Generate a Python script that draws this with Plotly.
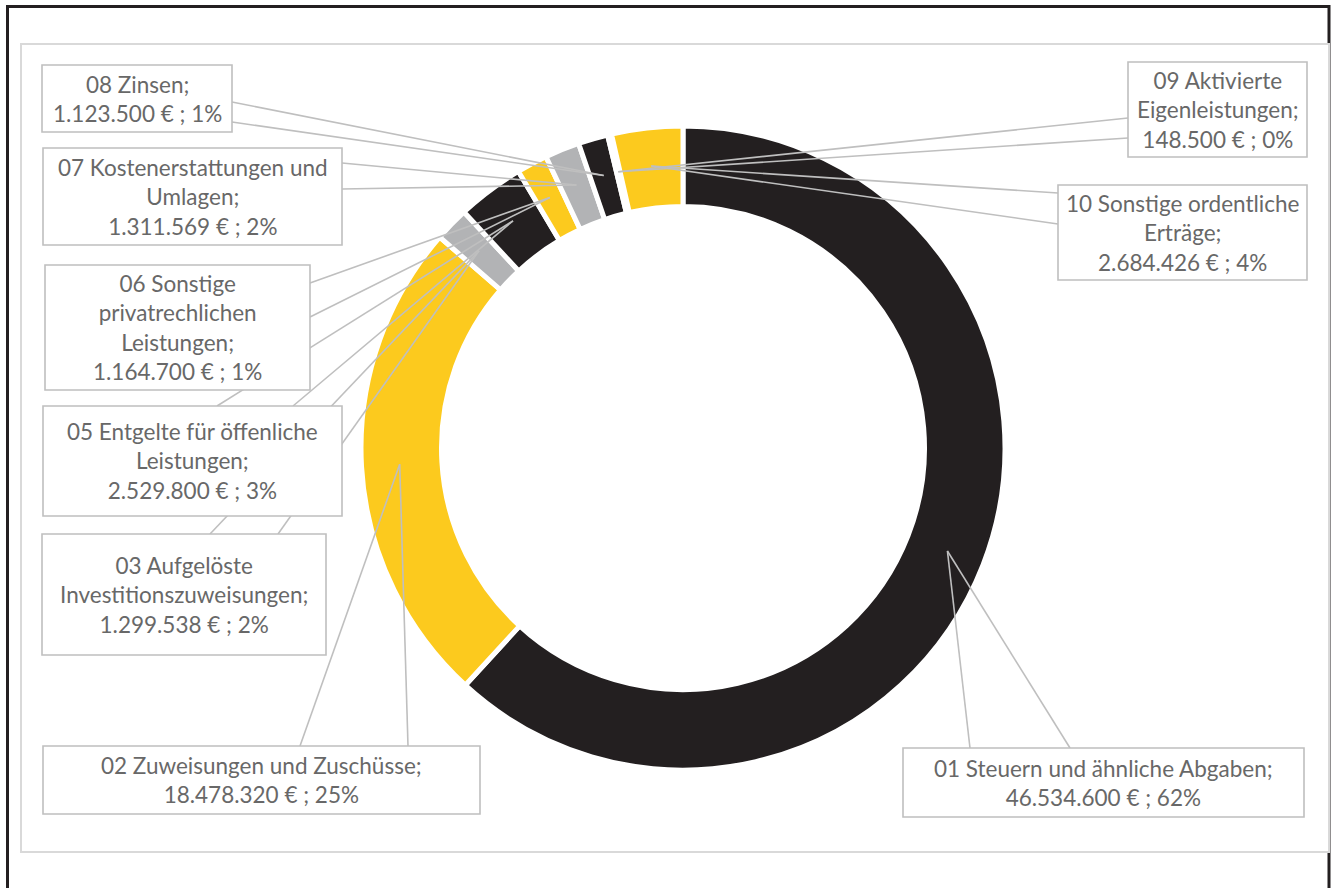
import math
import plotly.graph_objects as go

# ---------------- data ----------------
codes = ["01", "02", "03", "05", "06", "07", "08", "09", "10"]
names = [
    "Steuern und ähnliche Abgaben",
    "Zuweisungen und Zuschüsse",
    "Aufgelöste Investitionszuweisungen",
    "Entgelte für öffenliche Leistungen",
    "Sonstige privatrechlichen Leistungen",
    "Kostenerstattungen und Umlagen",
    "Zinsen",
    "Aktivierte Eigenleistungen",
    "Sonstige ordentliche Erträge",
]
values = [46534600, 18478320, 1299538, 2529800, 1164700, 1311569, 1123500, 148500, 2684426]
percent_labels = [62, 25, 2, 3, 1, 2, 1, 0, 4]
colors = ["#231F20", "#FCCA1E", "#B2B3B5", "#231F20", "#FCCA1E",
          "#B2B3B5", "#231F20", "#B2B3B5", "#FCCA1E"]

# label line wrapping (layout of the text inside the callout boxes)
wrapped_names = [
    "Steuern und ähnliche Abgaben;",
    "Zuweisungen und Zuschüsse;",
    "Aufgelöste<br>Investitionszuweisungen;",
    "Entgelte für öffenliche<br>Leistungen;",
    "Sonstige<br>privatrechlichen<br>Leistungen;",
    "Kostenerstattungen und<br>Umlagen;",
    "Zinsen;",
    "Aktivierte<br>Eigenleistungen;",
    "Sonstige ordentliche<br>Erträge;",
]

# ---------------- layout (pixels) ----------------
W, H = 1335, 888
CX, CY, R = 683, 448, 322
HOLE = 0.75

# callout boxes: (x0, y0, x1, y1) and tail base points
boxes = [
    (903, 748, 1304, 817),
    (43, 746, 480, 814),
    (42, 534, 326, 655),
    (43, 406, 342, 516),
    (45, 265, 310, 390),
    (43, 148, 342, 245),
    (42, 65, 232, 132),
    (1128, 62, 1307, 157),
    (1058, 185, 1307, 280),
]
tail_bases = [
    ((970, 748), (1070, 748)),
    ((300, 746), (408, 746)),
    ((210, 534), (278, 534)),
    ((217, 406), (293, 406)),
    ((310, 283), (310, 317)),
    ((342, 163), (342, 189)),
    ((232, 102), (232, 122)),
    ((1128, 118), (1128, 138)),
    ((1058, 193), (1058, 224)),
]

LINE_GRAY = "#BFBFBF"
TEXT_GRAY = "#686868"


def px(x):
    return x / W


def py(y):
    return 1 - y / H


def fmt_eur(v):
    return f"{v:,}".replace(",", ".")


fig = go.Figure()
fig.add_trace(go.Pie(
    values=values,
    labels=[c + " " + n for c, n in zip(codes, names)],
    sort=False,
    direction="clockwise",
    rotation=0,
    hole=HOLE,
    textinfo="none",
    marker=dict(colors=colors, line=dict(color="white", width=5)),
    domain=dict(x=[px(CX - R), px(CX + R)], y=[py(CY + R), py(CY - R)]),
    showlegend=False,
    hoverinfo="label+value+percent",
))

shapes = []
# outer black frame
shapes.append(dict(type="rect", xref="paper", yref="paper",
                   x0=px(7.5), x1=px(1329), y0=py(6.5), y1=py(920),
                   line=dict(color="#231F20", width=3), fillcolor="rgba(0,0,0,0)",
                   layer="below"))
# chart area
shapes.append(dict(type="rect", xref="paper", yref="paper",
                   x0=px(21), x1=px(1329), y0=py(44), y1=py(852),
                   line=dict(color="#D9D9D9", width=2), fillcolor="white",
                   layer="below"))

total = sum(values)
r_tip = R * (1 + HOLE) / 2 + 2
cum = 0.0
annotations = []
for i, v in enumerate(values):
    theta = 2 * math.pi * (cum + v / 2) / total
    cum += v
    tx = CX + r_tip * math.sin(theta)
    ty = CY - r_tip * math.cos(theta)
    for bx, by in tail_bases[i]:
        shapes.append(dict(type="line", xref="paper", yref="paper",
                           x0=px(bx), y0=py(by), x1=px(tx), y1=py(ty),
                           line=dict(color=LINE_GRAY, width=1.6), layer="above"))
    x0, y0, x1, y1 = boxes[i]
    shapes.append(dict(type="rect", xref="paper", yref="paper",
                       x0=px(x0), x1=px(x1), y0=py(y0), y1=py(y1),
                       line=dict(color=LINE_GRAY, width=1.6), fillcolor="white",
                       layer="above"))
    text = f"{codes[i]} {wrapped_names[i]}<br>{fmt_eur(v)} € ; {percent_labels[i]}%"
    annotations.append(dict(x=px((x0 + x1) / 2), y=py((y0 + y1) / 2),
                            xref="paper", yref="paper", text=text, showarrow=False,
                            xanchor="center", yanchor="middle", align="center",
                            font=dict(family="Lato", size=22.5, color=TEXT_GRAY)))

fig.update_layout(
    width=W, height=H,
    margin=dict(l=0, r=0, t=0, b=0),
    paper_bgcolor="white",
    plot_bgcolor="white",
    shapes=shapes,
    annotations=annotations,
)

fig.write_html(
    "out.html",
    config={"displayModeBar": False},
    post_script="document.body.style.margin='0px';document.body.style.overflow='hidden';",
)
